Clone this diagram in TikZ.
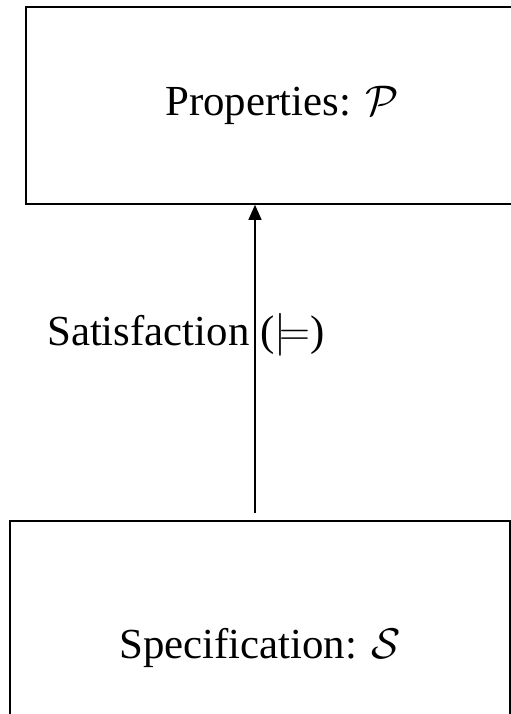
\RequirePackage{fix-cm}
\documentclass[tikz,border=0pt]{standalone}
\usepackage{fontspec}
\setmainfont{Liberation Serif}
\usetikzlibrary{arrows.meta,positioning,calc}

\begin{document}
\begin{tikzpicture}[
  x=1bp, y=-1bp,
  box/.style={rectangle, draw, line width=1.6bp, inner sep=0pt},
  lbl/.style={font=\fontsize{43}{50}\selectfont, inner sep=0pt},
  arr/.style={-{Triangle[length=15bp,width=13bp]}, line width=1.1bp},
]
  \useasboundingbox (0,0) rectangle (511,714);
  \clip (0,0) rectangle (511,714);
  % the two boxes, both run past the page edge
  \node[box, minimum width=512bp, minimum height=197bp] (prop) at (282,105.5) {};
  \node[box, minimum width=500bp, minimum height=254bp] (spec) at (260,648) {};
  \node[lbl] (proptext) at (prop.center) {Properties: $\mathcal{P}$};
  \node[lbl] (spectext) at (spec.center) {Specification: $\mathcal{S}$};
  % satisfaction relation
  \coordinate (tail) at (255,513);
  \draw[arr] (tail) -- (tail |- prop.south);
  \node[lbl, anchor=base west] (sat) at (47,345) {Satisfaction (\ensuremath{\models})};
\end{tikzpicture}
\end{document}
